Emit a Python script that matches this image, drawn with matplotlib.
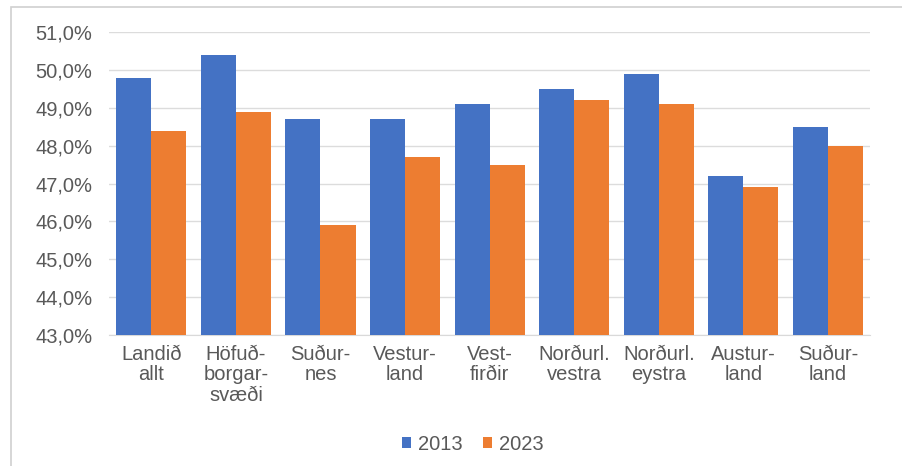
import matplotlib
matplotlib.use('Agg')
import matplotlib.pyplot as plt
import numpy as np
from matplotlib.patches import Rectangle
from matplotlib.ticker import FuncFormatter

svaedi = ["Landið\nallt", "Höfuð-\nborgar-\nsvæði", "Suður-\nnes", "Vestur-\nland", "Vest-\nfirðir",
          "Norðurl.\nvestra", "Norðurl.\neystra", "Austur-\nland", "Suður-\nland"]
ar2013 = [49.8, 50.4, 48.7, 48.7, 49.1, 49.5, 49.9, 47.2, 48.5]
ar2023 = [48.4, 48.9, 45.9, 47.7, 47.5, 49.2, 49.1, 46.9, 48.0]

plt.rcParams['font.family'] = ['Liberation Sans', 'DejaVu Sans']

fig = plt.figure(figsize=(9.03, 4.66), dpi=100)
ax = fig.add_axes([0.1207, 0.281, 0.843, 0.65])

# ramminn utan um myndina
fig.patches.append(Rectangle((11 / 903, -0.1), 1.2, 1.1 - 7 / 466, transform=fig.transFigure,
                             fill=False, edgecolor='#D0D0D0', linewidth=1.2))

x = np.arange(len(svaedi))
b = 0.415
ax.bar(x - b / 2, ar2013, b, color='#4472C4', label='2013', zorder=3)
ax.bar(x + b / 2, ar2023, b, color='#ED7D31', label='2023', zorder=3)

ax.set_ylim(43, 51)
ax.set_xlim(-0.5, len(svaedi) - 0.5)
ax.set_yticks(np.arange(43, 52, 1))
ax.yaxis.set_major_formatter(FuncFormatter(lambda v, p: f"{v:.1f}%".replace('.', ',')))
ax.grid(axis='y', color='#DCDCDC', linewidth=1, zorder=0)
ax.set_xticks(x)
ax.set_xticklabels(svaedi, linespacing=1.1)
ax.tick_params(axis='both', length=0, labelsize=14.5, colors='#595959', pad=7)
ax.tick_params(axis='y', pad=12)
for s in ['top', 'right', 'left']:
    ax.spines[s].set_visible(False)
ax.spines['bottom'].set_color('#D9D9D9')

fig.legend(loc='center', bbox_to_anchor=(0.524, 0.047), ncol=2, frameon=False,
           fontsize=14.5, labelcolor='#595959', handlelength=0.45, handleheight=0.45,
           handletextpad=0.35, columnspacing=1.0)

plt.savefig('out.png', dpi=100)
plt.close()
